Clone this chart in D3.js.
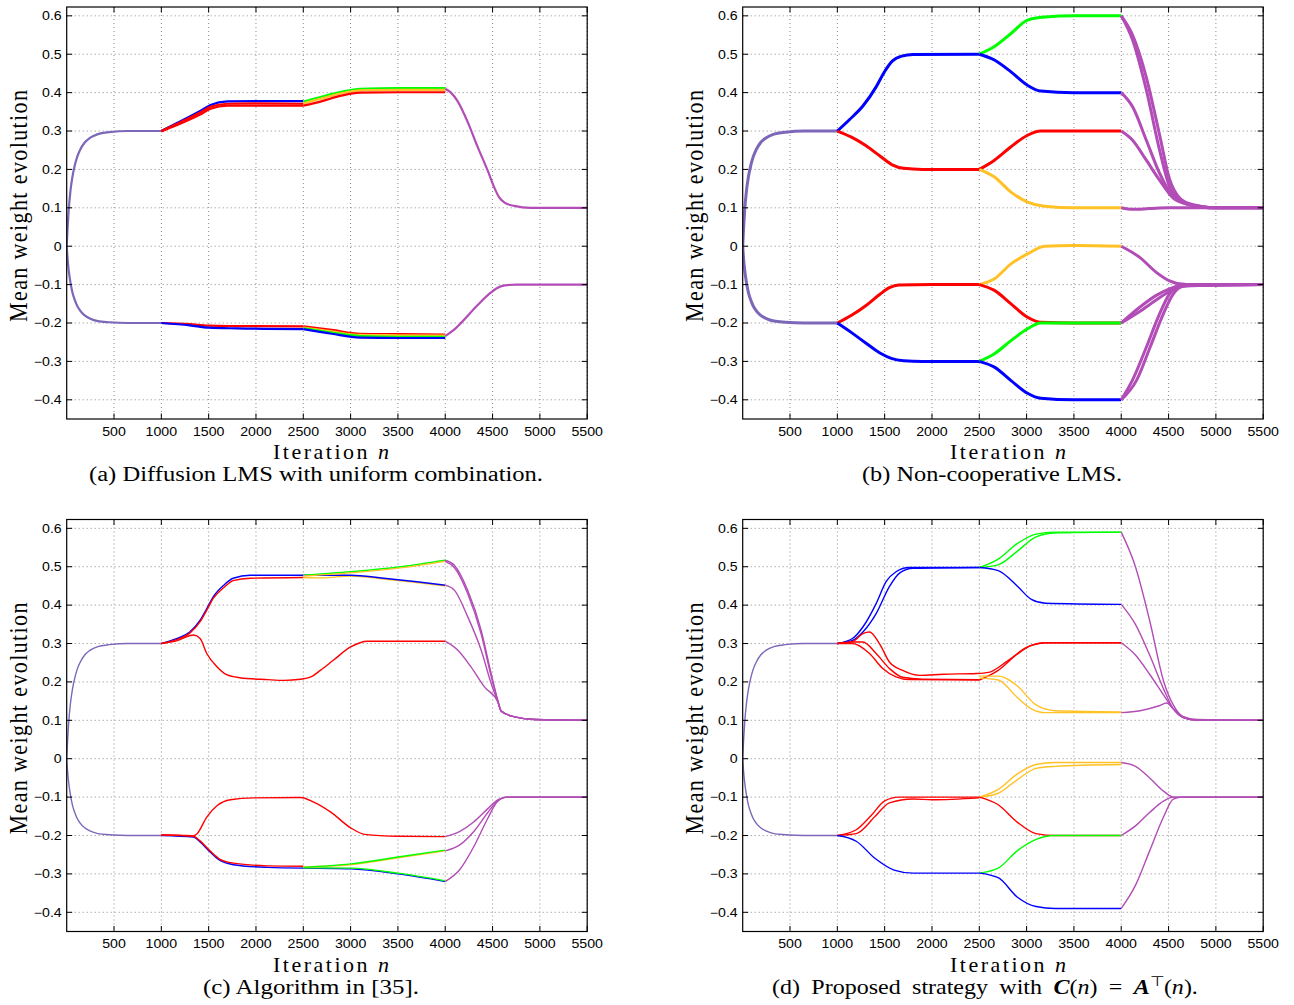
<!DOCTYPE html>
<html>
<head>
<meta charset="utf-8">
<script src="https://cdn.jsdelivr.net/npm/d3@7"></script>
<style>
  body { margin: 0; background: #fff; }
  text { fill: #000; }
</style>
</head>
<body>
<svg id="fig" width="1294" height="1005"></svg>
<script>
// ---- data ----
const xTicks = [500, 1000, 1500, 2000, 2500, 3000, 3500, 4000, 4500, 5000, 5500];
const yTicks = [-0.4, -0.3, -0.2, -0.1, 0, 0.1, 0.2, 0.3, 0.4, 0.5, 0.6];
const captions = [
  '(a) Diffusion LMS with uniform combination.',
  '(b) Non-cooperative LMS.',
  '(c) Algorithm in [35].',
  '(d) Proposed strategy with'
];

// transient common to all nodes (n < 1000)
const initUp = [[0,0],[10,0.05],[20,0.09],[40,0.145],[60,0.18],[85,0.21],[110,0.232],[140,0.25],[190,0.27],[245,0.282],[330,0.292],[450,0.297],[650,0.3],[1000,0.3]];
const initDown = [[0,0],[10,-0.035],[20,-0.06],[40,-0.095],[60,-0.12],[85,-0.14],[110,-0.155],[140,-0.167],[190,-0.18],[245,-0.188],[330,-0.195],[450,-0.198],[650,-0.2],[1000,-0.2]];

// (a) diffusion LMS, uniform combination
const tracksA = [
  ['i', initUp], ['i', initDown],
  ['b', [[1000,0.3],[1160,0.32],[1410,0.352],[1520,0.368],[1700,0.377],[2000,0.378],[2500,0.378]]],
  ['r', [[1000,0.3],[1160,0.318],[1410,0.348],[1520,0.363],[1700,0.371],[2000,0.372],[2500,0.371]]],
  ['r', [[1000,0.299],[1160,0.315],[1410,0.343],[1520,0.358],[1700,0.366],[2000,0.366],[2500,0.366]]],
  ['g', [[2500,0.377],[2700,0.39],[2900,0.402],[3100,0.41],[3500,0.412],[4000,0.412]]],
  ['y', [[2500,0.372],[2700,0.385],[2900,0.398],[3100,0.406],[3500,0.407],[4000,0.407]]],
  ['r', [[2500,0.366],[2700,0.378],[2900,0.392],[3100,0.4],[3500,0.401],[4000,0.401]]],
  ['r', [[1000,-0.2],[1300,-0.203],[1500,-0.207],[1800,-0.208],[2500,-0.209]]],
  ['b', [[1000,-0.2],[1300,-0.206],[1500,-0.212],[1800,-0.214],[2500,-0.216]]],
  ['r', [[2500,-0.209],[2800,-0.218],[3100,-0.228],[3500,-0.229],[4000,-0.23]]],
  ['y', [[2500,-0.212],[2800,-0.222],[3100,-0.231],[3500,-0.232],[4000,-0.233]]],
  ['g', [[2500,-0.214],[2800,-0.225],[3100,-0.234],[3500,-0.236],[4000,-0.236]]],
  ['b', [[2500,-0.216],[2800,-0.228],[3100,-0.238],[3500,-0.239],[4000,-0.239]]],
  ['m', [[4000,0.41],[4060,0.4],[4130,0.378],[4240,0.322],[4340,0.26],[4450,0.196],[4520,0.152],[4570,0.127],[4630,0.113],[4730,0.105],[4900,0.1],[5500,0.1]]],
  ['m', [[4000,-0.234],[4080,-0.22],[4170,-0.199],[4340,-0.154],[4470,-0.123],[4540,-0.11],[4630,-0.102],[4750,-0.1],[5500,-0.1]]]
];

// (b) non-cooperative LMS
const tracksB = [
  ['i', initUp], ['i', initDown],
  ['b', [[1000,0.3],[1130,0.33],[1270,0.365],[1410,0.415],[1500,0.455],[1580,0.482],[1680,0.495],[1800,0.499],[2500,0.5]]],
  ['r', [[1000,0.3],[1150,0.284],[1300,0.262],[1450,0.235],[1580,0.212],[1700,0.203],[1900,0.2],[2500,0.2]]],
  ['g', [[2500,0.5],[2660,0.52],[2835,0.554],[3010,0.589],[3190,0.597],[3500,0.6],[4000,0.6]]],
  ['b', [[2500,0.5],[2660,0.485],[2835,0.454],[3010,0.419],[3150,0.404],[3500,0.4],[4000,0.4]]],
  ['r', [[2500,0.2],[2660,0.224],[2835,0.259],[3010,0.289],[3150,0.3],[3500,0.3],[4000,0.3]]],
  ['y', [[2500,0.2],[2660,0.18],[2835,0.141],[3010,0.115],[3190,0.104],[3500,0.1],[4000,0.1]]],
  ['r', [[1000,-0.2],[1150,-0.18],[1300,-0.155],[1450,-0.125],[1550,-0.108],[1650,-0.101],[2000,-0.1],[2500,-0.1]]],
  ['b', [[1000,-0.2],[1150,-0.225],[1300,-0.252],[1450,-0.278],[1570,-0.292],[1700,-0.298],[1900,-0.3],[2500,-0.3]]],
  ['y', [[2500,-0.1],[2660,-0.085],[2835,-0.046],[3010,-0.02],[3190,0],[3500,0.002],[4000,0]]],
  ['r', [[2500,-0.1],[2660,-0.115],[2835,-0.15],[3010,-0.185],[3150,-0.198],[3500,-0.2],[4000,-0.2]]],
  ['g', [[2500,-0.3],[2660,-0.28],[2835,-0.246],[3010,-0.215],[3150,-0.2],[3500,-0.2],[4000,-0.2]]],
  ['b', [[2500,-0.3],[2660,-0.315],[2835,-0.35],[3010,-0.383],[3150,-0.396],[3500,-0.4],[4000,-0.4]]],
  ['m', [[4000,0.6],[4120,0.537],[4265,0.407],[4405,0.25],[4510,0.155],[4620,0.12],[4760,0.107],[5000,0.1],[5500,0.1]]],
  ['m', [[4000,0.6],[4120,0.55],[4265,0.44],[4405,0.29],[4510,0.175],[4620,0.125],[4760,0.108],[5000,0.1],[5500,0.1]]],
  ['m', [[4000,0.4],[4120,0.363],[4265,0.276],[4405,0.19],[4550,0.128],[4690,0.11],[5000,0.1],[5500,0.1]]],
  ['m', [[4000,0.3],[4120,0.276],[4265,0.224],[4405,0.172],[4550,0.125],[4690,0.11],[5000,0.1],[5500,0.1]]],
  ['m', [[4000,0.1],[4120,0.096],[4300,0.098],[4500,0.1],[5500,0.1]]],
  ['m', [[4000,0],[4195,-0.029],[4370,-0.068],[4510,-0.09],[4690,-0.1],[5500,-0.1]]],
  ['m', [[4000,-0.2],[4195,-0.159],[4370,-0.128],[4510,-0.111],[4690,-0.1],[5500,-0.1]]],
  ['m', [[4000,-0.2],[4195,-0.17],[4370,-0.14],[4510,-0.118],[4690,-0.102],[5500,-0.1]]],
  ['m', [[4000,-0.4],[4120,-0.348],[4265,-0.263],[4405,-0.176],[4510,-0.124],[4620,-0.102],[5500,-0.1]]],
  ['m', [[4000,-0.4],[4160,-0.35],[4305,-0.263],[4445,-0.176],[4550,-0.124],[4660,-0.104],[5500,-0.1]]]
];

// (c) algorithm in [35]
const tracksC = [
  ['i', initUp], ['i', initDown],
  ['b', [[1000,0.3],[1160,0.313],[1300,0.33],[1410,0.361],[1480,0.391],[1550,0.422],[1660,0.452],[1760,0.47],[1940,0.478],[2500,0.478]]],
  ['r', [[1000,0.3],[1160,0.31],[1300,0.327],[1410,0.357],[1480,0.387],[1550,0.418],[1660,0.446],[1760,0.464],[1940,0.47],[2500,0.472]]],
  ['r', [[1000,0.3],[1160,0.307],[1340,0.322],[1410,0.313],[1480,0.274],[1590,0.239],[1690,0.219],[1830,0.211],[2120,0.206],[2300,0.204],[2470,0.207],[2580,0.213],[2680,0.23],[2820,0.257],[3000,0.291],[3180,0.306],[4000,0.306]]],
  ['y', [[2500,0.472],[2700,0.471],[3000,0.476],[3350,0.468],[3700,0.459],[4000,0.45]]],
  ['b', [[2500,0.478],[3000,0.478],[3350,0.47],[3700,0.461],[4000,0.452]]],
  ['g', [[2500,0.478],[3000,0.487],[3530,0.5],[4000,0.517]]],
  ['y', [[2500,0.476],[3000,0.484],[3530,0.497],[4000,0.514]]],
  ['b', [[1000,-0.2],[1340,-0.204],[1410,-0.217],[1515,-0.243],[1620,-0.265],[1760,-0.276],[2120,-0.283],[2500,-0.285]]],
  ['r', [[1000,-0.199],[1340,-0.202],[1410,-0.214],[1515,-0.24],[1620,-0.262],[1760,-0.272],[2120,-0.279],[2500,-0.28]]],
  ['r', [[1000,-0.198],[1200,-0.199],[1340,-0.201],[1375,-0.196],[1480,-0.152],[1590,-0.122],[1730,-0.107],[1975,-0.102],[2470,-0.101],[2610,-0.113],[2790,-0.139],[3000,-0.18],[3150,-0.197],[3500,-0.202],[4000,-0.203]]],
  ['b', [[2500,-0.285],[3000,-0.287],[3500,-0.3],[4000,-0.32]]],
  ['g', [[2500,-0.284],[3000,-0.285],[3500,-0.298],[4000,-0.318]]],
  ['y', [[2500,-0.282],[3000,-0.276],[3500,-0.258],[4000,-0.24]]],
  ['g', [[2500,-0.283],[3000,-0.274],[3500,-0.256],[4000,-0.238]]],
  ['m', [[4000,0.517],[4096,0.504],[4237,0.439],[4379,0.335],[4485,0.222],[4556,0.152],[4591,0.124],[4732,0.109],[4944,0.102],[5500,0.1]]],
  ['m', [[4000,0.514],[4096,0.498],[4237,0.43],[4379,0.325],[4485,0.215],[4556,0.15],[4591,0.124],[4732,0.109],[4944,0.102],[5500,0.1]]],
  ['m', [[4000,0.452],[4096,0.439],[4237,0.37],[4379,0.283],[4485,0.196],[4556,0.148],[4591,0.124],[4732,0.109],[4944,0.102],[5500,0.1]]],
  ['m', [[4000,0.306],[4131,0.283],[4272,0.239],[4414,0.187],[4556,0.148],[4591,0.124],[4732,0.109],[4944,0.102],[5500,0.1]]],
  ['m', [[4000,-0.24],[4150,-0.225],[4300,-0.19],[4450,-0.14],[4550,-0.11],[4650,-0.1],[5500,-0.1]]],
  ['m', [[4000,-0.203],[4150,-0.19],[4300,-0.165],[4450,-0.13],[4550,-0.108],[4650,-0.1],[5500,-0.1]]],
  ['m', [[4000,-0.32],[4150,-0.29],[4300,-0.23],[4450,-0.155],[4550,-0.112],[4650,-0.1],[5500,-0.1]]]
];

// (d) proposed strategy
const tracksD = [
  ['i', initUp], ['i', initDown],
  ['b', [[1000,0.3],[1160,0.313],[1270,0.343],[1410,0.404],[1515,0.461],[1620,0.487],[1760,0.498],[2500,0.498]]],
  ['b', [[1000,0.3],[1160,0.308],[1270,0.33],[1410,0.378],[1550,0.448],[1660,0.484],[1800,0.496],[2500,0.498]]],
  ['r', [[1000,0.3],[1160,0.3],[1340,0.274],[1480,0.235],[1620,0.213],[1760,0.206],[2500,0.205]]],
  ['r', [[1000,0.3],[1160,0.304],[1270,0.304],[1410,0.274],[1550,0.235],[1690,0.212],[1900,0.207],[2500,0.206]]],
  ['r', [[1000,0.3],[1160,0.305],[1270,0.326],[1340,0.33],[1445,0.3],[1550,0.252],[1690,0.23],[1870,0.217],[2120,0.22],[2470,0.222],[2600,0.225],[2800,0.255],[3000,0.29],[3200,0.302],[4000,0.302]]],
  ['g', [[2500,0.498],[2700,0.52],[2900,0.56],[3100,0.585],[3300,0.59],[4000,0.59]]],
  ['g', [[2500,0.498],[2700,0.505],[2900,0.54],[3100,0.578],[3300,0.588],[4000,0.59]]],
  ['b', [[2500,0.498],[2700,0.49],[2900,0.45],[3050,0.415],[3200,0.405],[4000,0.402]]],
  ['r', [[2500,0.205],[2700,0.23],[2900,0.272],[3050,0.295],[3200,0.302],[4000,0.302]]],
  ['y', [[2500,0.21],[2700,0.205],[2900,0.16],[3050,0.13],[3200,0.12],[4000,0.12]]],
  ['y', [[2500,0.215],[2700,0.215],[2900,0.19],[3100,0.14],[3300,0.125],[4000,0.122]]],
  ['r', [[1000,-0.2],[1200,-0.185],[1350,-0.15],[1500,-0.11],[1650,-0.1],[2500,-0.1]]],
  ['r', [[1000,-0.2],[1200,-0.195],[1400,-0.15],[1550,-0.115],[1800,-0.105],[2000,-0.107],[2500,-0.102]]],
  ['b', [[1000,-0.2],[1200,-0.215],[1400,-0.26],[1600,-0.29],[1800,-0.298],[2500,-0.298]]],
  ['y', [[2500,-0.1],[2700,-0.08],[2900,-0.04],[3100,-0.015],[3300,-0.01],[4000,-0.01]]],
  ['y', [[2500,-0.1],[2700,-0.09],[2900,-0.055],[3100,-0.025],[3300,-0.02],[4000,-0.015]]],
  ['r', [[2500,-0.1],[2700,-0.12],[2900,-0.165],[3100,-0.195],[3300,-0.2],[4000,-0.2]]],
  ['g', [[2500,-0.298],[2700,-0.285],[2900,-0.24],[3100,-0.21],[3300,-0.2],[4000,-0.2]]],
  ['b', [[2500,-0.298],[2700,-0.31],[2900,-0.36],[3100,-0.385],[3300,-0.39],[4000,-0.39]]],
  ['m', [[4000,0.59],[4150,0.5],[4300,0.36],[4450,0.2],[4550,0.14],[4650,0.11],[4800,0.102],[5500,0.1]]],
  ['m', [[4000,0.402],[4150,0.35],[4300,0.27],[4450,0.18],[4550,0.13],[4650,0.108],[4800,0.1],[5500,0.1]]],
  ['m', [[4000,0.302],[4150,0.27],[4300,0.22],[4450,0.165],[4550,0.13],[4650,0.108],[4800,0.1],[5500,0.1]]],
  ['m', [[4000,0.12],[4200,0.125],[4400,0.138],[4480,0.145],[4550,0.13],[4650,0.108],[4800,0.1],[5500,0.1]]],
  ['m', [[4000,-0.01],[4150,-0.02],[4300,-0.05],[4450,-0.085],[4550,-0.1],[5500,-0.1]]],
  ['m', [[4000,-0.2],[4150,-0.175],[4300,-0.14],[4450,-0.11],[4550,-0.1],[5500,-0.1]]],
  ['m', [[4000,-0.39],[4150,-0.33],[4300,-0.24],[4450,-0.15],[4550,-0.105],[4650,-0.1],[5500,-0.1]]]
];

// ---- drawing ----
const color = d3.scaleOrdinal()
  .domain(['i', 'b', 'r', 'g', 'y', 'm'])
  .range(['#7c67b8', '#0000ff', '#ff0000', '#00ff00', '#ffc125', '#b24cb6']);

const plotW = 520.5, plotH = 412;
const panels = [
  { id: 'a', left: 66.7, top: 7, tracks: tracksA, lw: 2.2, cap: captions[0], capX: 89, capLen: 454 },
  { id: 'b', left: 742.7, top: 7, tracks: tracksB, lw: 3.0, cap: captions[1], capX: 862, capLen: 260 },
  { id: 'c', left: 66.7, top: 519.5, tracks: tracksC, lw: 1.4, cap: captions[2], capX: 203, capLen: 216 },
  { id: 'd', left: 742.7, top: 519.5, tracks: tracksD, lw: 1.4, cap: captions[3], capX: 772, capLen: 0 }
];

const svg = d3.select('#fig');

panels.forEach(p => {
  const x = d3.scaleLinear().domain([0, 5500]).range([0, plotW]);
  const y = d3.scaleLinear().domain([-0.45, 0.623]).range([plotH, 0]);

  const g = svg.append('g').attr('transform', 'translate(' + p.left + ',' + p.top + ')');

  g.append('clipPath').attr('id', 'clip-' + p.id)
    .append('rect').attr('width', plotW).attr('height', plotH);

  // dotted grid
  g.append('g').selectAll('line').data(xTicks).enter().append('line')
    .attr('x1', d => x(d)).attr('x2', d => x(d)).attr('y1', 0).attr('y2', plotH)
    .attr('stroke', '#8a8a8a').attr('stroke-width', 1).attr('stroke-dasharray', '1,3');
  g.append('g').selectAll('line').data(yTicks).enter().append('line')
    .attr('x1', 0).attr('x2', plotW).attr('y1', d => y(d)).attr('y2', d => y(d))
    .attr('stroke', '#8a8a8a').attr('stroke-width', 1).attr('stroke-dasharray', '1,3');

  // curves
  const line = d3.line().x(d => x(d[0])).y(d => y(d[1])).curve(d3.curveMonotoneX);
  g.append('g').attr('clip-path', 'url(#clip-' + p.id + ')')
    .selectAll('path').data(p.tracks).enter().append('path')
    .attr('d', d => line(d[1]))
    .attr('fill', 'none')
    .attr('stroke', d => color(d[0]))
    .attr('stroke-width', p.lw)
    .attr('stroke-linejoin', 'round');

  // box and inward ticks on all sides
  g.append('rect').attr('width', plotW).attr('height', plotH)
    .attr('fill', 'none').attr('stroke', '#000').attr('stroke-width', 1.2);
  const tk = 5.5;
  const ticks = g.append('g').attr('stroke', '#000').attr('stroke-width', 1);
  xTicks.forEach(t => {
    ticks.append('line').attr('x1', x(t)).attr('x2', x(t)).attr('y1', plotH).attr('y2', plotH - tk);
    ticks.append('line').attr('x1', x(t)).attr('x2', x(t)).attr('y1', 0).attr('y2', tk);
  });
  yTicks.forEach(t => {
    ticks.append('line').attr('x1', 0).attr('x2', tk).attr('y1', y(t)).attr('y2', y(t));
    ticks.append('line').attr('x1', plotW).attr('x2', plotW - tk).attr('y1', y(t)).attr('y2', y(t));
  });

  // tick labels
  g.append('g').selectAll('g').data(xTicks).enter().append('g')
    .attr('transform', d => 'translate(' + x(d) + ',' + (plotH + 16.5) + ')')
    .append('text')
    .attr('text-anchor', 'middle')
    .attr('transform', 'scale(1.18,1)')
    .style('font', '12px "Liberation Sans", Arial, sans-serif')
    .text(d => d);
  g.append('g').selectAll('g').data(yTicks).enter().append('g')
    .attr('transform', d => 'translate(-5,' + (y(d) + 4.3) + ')')
    .append('text')
    .attr('text-anchor', 'end')
    .attr('transform', 'scale(1.18,1)')
    .style('font', '12px "Liberation Sans", Arial, sans-serif')
    .text(d => d === 0 ? '0' : d3.format('.1f')(d).replace('-', '\u2212'));

  // axis titles
  const xl = g.append('text')
    .attr('x', (p.id === 'a' || p.id === 'c') ? 273 - p.left : 950 - p.left)
    .attr('y', plotH + 40)
    .attr('textLength', 116).attr('lengthAdjust', 'spacing')
    .style('font', '22px "Liberation Serif", "Times New Roman", serif');
  xl.append('tspan').text('Iteration ');
  xl.append('tspan').style('font-style', 'italic').text('n');

  g.append('text')
    .attr('transform', 'translate(-40,' + (plotH / 2 - 7) + ') scale(1.12,1) rotate(-90)')
    .attr('text-anchor', 'middle')
    .attr('textLength', 232).attr('lengthAdjust', 'spacing')
    .style('font', '22px "Liberation Serif", "Times New Roman", serif')
    .text('Mean weight evolution');

  // caption (the source figure is stretched horizontally)
  if (p.capLen) {
    svg.append('text')
      .attr('x', p.capX).attr('y', p.top + 474)
      .attr('textLength', p.capLen).attr('lengthAdjust', 'spacingAndGlyphs')
      .style('font', '20px "Liberation Serif", "Times New Roman", serif')
      .text(p.cap);
  } else {
    const cap = svg.append('g')
      .attr('transform', 'translate(' + p.capX + ',' + (p.top + 474) + ') scale(1.2,1)')
      .append('text')
      .attr('word-spacing', 4.5)
      .style('font', '20px "Liberation Serif", "Times New Roman", serif');
    cap.append('tspan').text(p.cap + ' ');
    cap.append('tspan').style('font-weight', 'bold').style('font-style', 'italic').text('C');
    cap.append('tspan').text('(');
    cap.append('tspan').style('font-style', 'italic').text('n');
    cap.append('tspan').text(') = ');
    cap.append('tspan').style('font-weight', 'bold').style('font-style', 'italic').text('A');
    cap.append('tspan').attr('dy', -8).style('font-size', '14px').text('\u22A4');
    cap.append('tspan').attr('dy', 8).text('(');
    cap.append('tspan').style('font-style', 'italic').text('n');
    cap.append('tspan').text(').');
  }
});
</script>
</body>
</html>
